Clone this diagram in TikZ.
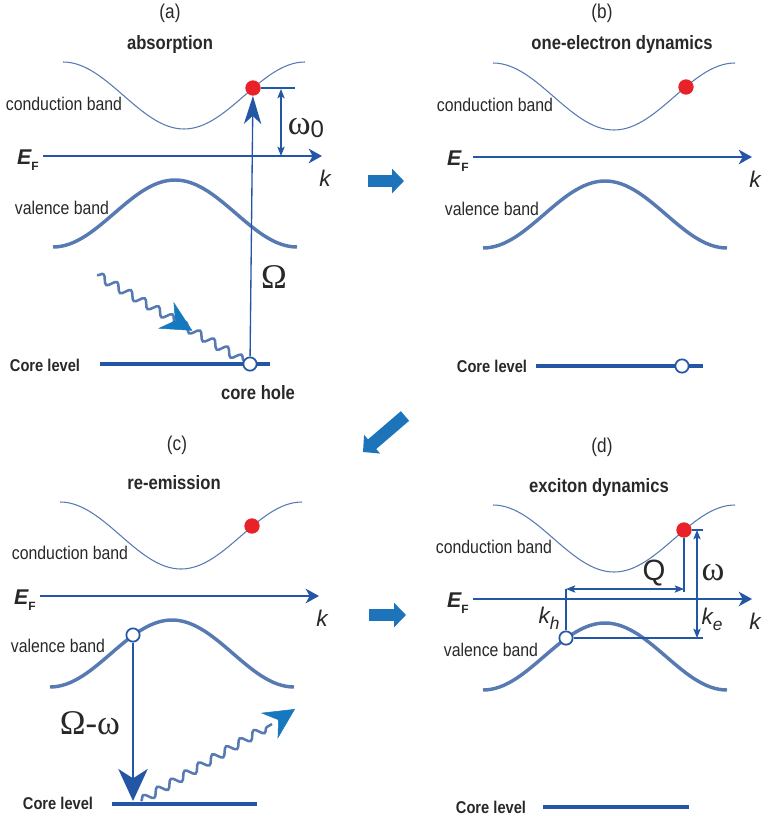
\documentclass[tikz,border=0pt]{standalone}
\usepackage{fontspec}
\setmainfont{Liberation Sans}
\newfontfamily\narrowfont{Liberation Sans}[FakeStretch=0.86]
\newfontfamily\greekfont{Liberation Serif}
\usetikzlibrary{arrows.meta,decorations.pathmorphing,decorations.markings}
\definecolor{bandblue}{RGB}{88,122,178}
\definecolor{coreblue}{RGB}{36,86,166}
\definecolor{photonblue}{RGB}{22,120,190}
\definecolor{blockblue}{RGB}{30,116,186}
\definecolor{dotred}{RGB}{232,34,40}
\definecolor{labelgray}{RGB}{40,40,40}
\tikzset{
  cband/.style={bandblue,line width=0.8pt},
  vband/.style={bandblue,line width=2.6pt},
  efaxis/.style={coreblue,line width=1.1pt,-{Stealth[length=10pt,width=11pt,inset=3pt]}},
  corelevel/.style={coreblue,line width=3.6pt},
  electron/.style={circle,fill=dotred,inner sep=0pt,minimum size=11.5pt},
  hole/.style={circle,draw=coreblue,fill=white,line width=1.3pt,inner sep=0pt,minimum size=10pt},
  excite/.style={coreblue,line width=1pt,-{Stealth[length=21pt,width=13pt,inset=6pt]}},
  emit/.style={coreblue,line width=2.2pt,-{Stealth[length=24pt,width=22pt,inset=7pt]}},
  dimline/.style={coreblue,line width=0.8pt},
  dimarrow/.style={dimline,{Stealth[length=7pt,width=5.5pt,inset=1.5pt]}-{Stealth[length=7pt,width=5.5pt,inset=1.5pt]}},
  photon/.style={bandblue,line width=1.9pt,decorate,decoration={snake,segment length=12pt,amplitude=3pt}},
  photontip/.tip={Stealth[length=23pt,width=23pt,inset=8pt,color=photonblue]},
  blockarrow/.style={blockblue,line width=9.5pt,-{Triangle[length=9pt,width=18pt]}},
  panelno/.style={labelgray,font=\fontsize{15}{15}\selectfont\narrowfont,inner sep=0pt},
  paneltitle/.style={labelgray,font=\fontsize{14.5}{15}\selectfont\narrowfont\bfseries,inner sep=0pt},
  bandlabel/.style={labelgray,font=\fontsize{13.8}{14}\selectfont\narrowfont,inner sep=0pt},
  corelabel/.style={labelgray,font=\fontsize{12.8}{13}\selectfont\narrowfont\bfseries,inner sep=0pt},
  eflabel/.style={labelgray,font=\fontsize{16}{16}\selectfont\bfseries\itshape,inner sep=0pt},
  klabel/.style={labelgray,font=\fontsize{17}{17}\selectfont\itshape,inner sep=0pt},
  greeklabel/.style={labelgray,font=\fontsize{26}{26}\selectfont\greekfont,inner sep=0pt}
}

\begin{document}
\begin{tikzpicture}[x=0.75pt,y=-0.75pt]
  \useasboundingbox (0,0) rectangle (763,820);
  % bands and Fermi level, same in all four panels
  \foreach \p/\dx/\dy in {a/0/0,b/430/1,c/-3/440,d/430/443} {
    \begin{scope}[shift={(\dx,\dy)}]
      \draw[cband] plot[domain=63:305,samples=61] (\x,{95.5+33.5*cos(1.4876*(\x-184))});
      \draw[vband] plot[domain=53:297,samples=61] (\x,{213.5-33.5*cos(1.47541*(\x-175))});
      \coordinate (kst\p) at (43,156);
      \coordinate (kend\p) at (322,156);
      \draw[efaxis] (kst\p) -- (kend\p);
      \node[eflabel] (EF\p) at (28,160) {E\raisebox{-0.5ex}{\fontsize{9}{9}\selectfont\upshape F}};
      \node[klabel] (k\p) at (325,178) {k};
    \end{scope}
  }
  % titles
  \node[panelno] (na) at (170,13) {(a)};
  \node[paneltitle] (ta) at (170,45) {absorption};
  \node[panelno] (nb) at (602,13) {(b)};
  \node[paneltitle] (tb) at (622,45) {one-electron dynamics};
  \node[panelno] (nc) at (177,445) {(c)};
  \node[paneltitle] (tc) at (174,483) {re-emission};
  \node[panelno] (nd) at (602,447) {(d)};
  \node[paneltitle] (td) at (599,487) {exciton dynamics};
  % band labels
  \node[bandlabel] (cba) at (64,104) {conduction band};
  \node[bandlabel] (vba) at (62,208) {valence band};
  \node[bandlabel] (cbb) at (495,105) {conduction band};
  \node[bandlabel] (vbb) at (492,209) {valence band};
  \node[bandlabel] (cbc) at (70,553) {conduction band};
  \node[bandlabel] (vbc) at (58,646) {valence band};
  \node[bandlabel] (cbd) at (494,547) {conduction band};
  \node[bandlabel] (vbd) at (491,650) {valence band};

  % (a) absorption
  \coordinate (phA) at (97,275);
  \coordinate (hAc) at (246,362);
  \draw[photon] (phA) -- (hAc);
  \path[postaction={decorate},decoration={markings,mark=at position 0.64 with {\arrow{photontip}}}] (phA) -- (hAc);
  \coordinate (clA1) at (100,364);
  \coordinate (clA2) at (270,364);
  \draw[corelevel] (clA1) -- (clA2);
  \node[corelabel] (cla) at (45,365) {Core level};
  \node[hole] (hA) at (250,364) {};
  \node[paneltitle] (chA) at (258,393) {core hole};
  \node[electron] (eA) at (253,88) {};
  \draw[excite] (hA) -- (eA);
  \coordinate (w0a) at (281,89);
  \coordinate (w0b) at (281,156);
  \coordinate (w0e) at (295,88);
  \draw[dimline] (eA) -- (w0e);
  \draw[dimarrow] (w0a) -- (w0b);
  \node[greeklabel] (w0) at (306,128) {ω\raisebox{-0.2ex}{\fontsize{18}{18}\selectfont\rmfamily 0}};
  \node[greeklabel] (Om) at (274,277) {Ω};

  % (b) one-electron dynamics
  \coordinate (clB1) at (536,366);
  \coordinate (clB2) at (703,366);
  \draw[corelevel] (clB1) -- (clB2);
  \node[corelabel] (clb) at (492,366) {Core level};
  \node[hole] (hB) at (682,366) {};
  \node[electron] (eB) at (686,87) {};

  % (c) re-emission
  \coordinate (clC1) at (112,804);
  \coordinate (clC2) at (257,804);
  \draw[corelevel] (clC1) -- (clC2);
  \node[corelabel] (clc) at (58,803) {Core level};
  \node[electron] (eC) at (252,526) {};
  \node[hole] (hC) at (133,635) {};
  \coordinate (clC) at (133,801);
  \draw[emit] (hC) -- (clC);
  \node[greeklabel] (OmW) at (90,723) {Ω-ω};
  \coordinate (phC) at (141,801);
  \coordinate (phCe) at (272,724);
  \coordinate (tipC) at (295,709);
  \draw[photon] (phC) -- (phCe);
  \path[postaction={decorate},decoration={markings,mark=at position 1 with {\arrow{photontip}}}] (phCe) -- (tipC);

  % (d) exciton dynamics
  \coordinate (clD1) at (543,807);
  \coordinate (clD2) at (689,807);
  \draw[corelevel] (clD1) -- (clD2);
  \node[corelabel] (cld) at (491,807) {Core level};
  \node[electron] (eD) at (684,530) {};
  \node[hole] (hD) at (566,638) {};
  \coordinate (qh) at (566,589);
  \coordinate (qe) at (684,589);
  \coordinate (qev) at (684,592);
  \coordinate (wt) at (703,530);
  \coordinate (wb) at (703,638);
  \coordinate (wat) at (697,530);
  \coordinate (wab) at (697,638);
  \draw[dimline] (hD) -- (qh);
  \draw[dimline] (eD) -- (qev);
  \draw[dimline] (eD) -- (wt);
  \draw[dimline] (hD) -- (wb);
  \draw[dimarrow] (qh) -- (qe);
  \draw[dimarrow] (wat) -- (wab);
  \node[klabel,font=\fontsize{22}{22}\selectfont] (Q) at (654,573) {Q};
  \node[greeklabel] (wD) at (713,573) {ω};
  \node[klabel] (kh) at (549,618) {k\raisebox{-0.5ex}{\fontsize{13}{13}\selectfont h}};
  \node[klabel] (ke) at (712,619) {k\raisebox{-0.5ex}{\fontsize{13}{13}\selectfont e}};

  % arrows between panels
  \coordinate (ab1) at (368,181);
  \coordinate (ab2) at (404,181);
  \draw[blockarrow] (ab1) -- (ab2);
  \coordinate (bc1) at (405,416);
  \coordinate (bc2) at (363,452);
  \draw[blockarrow] (bc1) -- (bc2);
  \coordinate (cd1) at (369,615);
  \coordinate (cd2) at (406,615);
  \draw[blockarrow] (cd1) -- (cd2);
\end{tikzpicture}
\end{document}
